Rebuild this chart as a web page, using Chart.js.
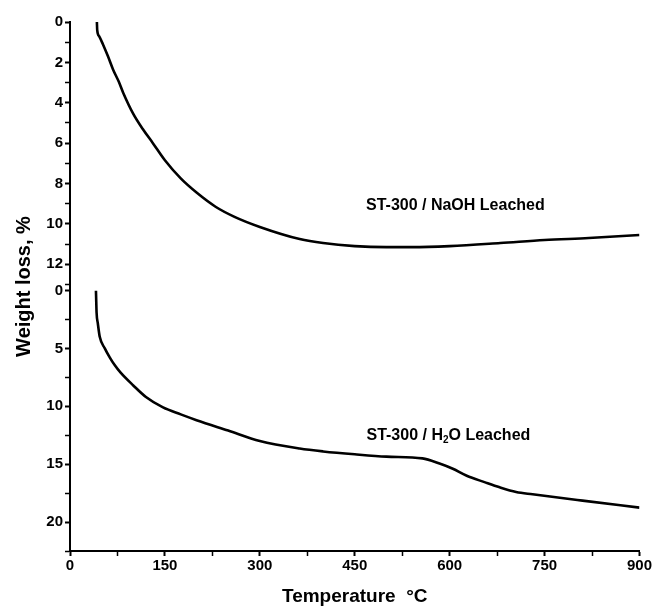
<!DOCTYPE html>
<html>
<head>
<meta charset="utf-8">
<script src="https://cdn.jsdelivr.net/npm/chart.js@4.4.1/dist/chart.umd.min.js"></script>
<style>
html, body { margin: 0; padding: 0; background: #fff; }
#wrap { width: 653px; height: 606px; }
</style>
</head>
<body>
<div id="wrap"><canvas id="tga"></canvas></div>
<script>
/***** data *****/
var tempTicks = [0, 150, 300, 450, 600, 750, 900];
var naohTicks = [0, 2, 4, 6, 8, 10, 12];
var waterTicks = [0, 5, 10, 15, 20];

// ST-300 / NaOH leached (top panel)
var naohTemp = [42.5, 43, 46, 52, 60, 68, 77, 84, 100, 115, 131, 150, 175, 200, 230, 260, 300, 363, 400, 450, 500, 540, 600, 680, 750, 820, 900];
var naohLoss = [0, 0.4, 0.7, 1.1, 1.7, 2.35, 2.95, 3.5, 4.55, 5.3, 6.0, 6.85, 7.75, 8.45, 9.15, 9.65, 10.15, 10.75, 10.95, 11.1, 11.15, 11.15, 11.1, 10.95, 10.8, 10.7, 10.55];

// ST-300 / H2O leached (bottom panel)
var waterTemp = [41, 41.5, 42, 44, 47, 55, 63, 70, 80, 100, 120, 147, 175, 200, 250, 300, 363, 400, 450, 500, 557, 584, 605, 627, 655, 679, 705, 731, 810, 900];
var waterLoss = [0, 1.0, 1.9, 2.85, 4.0, 5.0, 5.8, 6.4, 7.1, 8.2, 9.2, 10.1, 10.7, 11.2, 12.1, 13.0, 13.65, 13.9, 14.15, 14.35, 14.5, 14.95, 15.4, 16.0, 16.55, 17.0, 17.4, 17.6, 18.15, 18.75];
/***** !data *****/

function pairs(xs, ys) {
    var out = [];
    for (var i = 0; i < xs.length; i++) {
        out.push({x: xs[i], y: ys[i]});
    }
    return out;
}

// major ticks plus a minor one half way between them
function withMinor(major, max) {
    var step = major[1] - major[0];
    var vals = [];
    for (var i = 0; i < major.length; i++) {
        vals.push(major[i]);
        if (major[i] + step / 2 <= max) {
            vals.push(major[i] + step / 2);
        }
    }
    return vals;
}

var tickFont = {family: '"Liberation Sans", Arial, sans-serif', size: 15, weight: 'bold'};

function yAxis(major, max, weight) {
    return {
        type: 'linear',
        position: 'left',
        stack: 'tga',
        stackWeight: weight,
        reverse: true,
        min: 0,
        max: max,
        afterBuildTicks: function(scale) {
            scale.ticks = withMinor(major, max).map(function(v) { return {value: v}; });
        },
        afterFit: function(scale) { scale.width = 70; },
        ticks: {
            autoSkip: false,
            color: '#000',
            font: tickFont,
            padding: 2,
            callback: function(v) { return major.includes(v) ? String(v) : ''; }
        },
        grid: {
            drawOnChartArea: false,
            drawTicks: true,
            tickLength: 5,
            tickColor: '#000',
            tickWidth: function(c) { return c.tick && major.includes(c.tick.value) ? 2 : 1.5; }
        },
        border: {display: true, color: '#000', width: 2}
    };
}

var sideTitle = {
    id: 'sideTitle',
    afterDraw: function(chart) {
        var ctx = chart.ctx;
        var a = chart.chartArea;
        ctx.save();
        ctx.translate(24, (a.top + a.bottom) / 2);
        ctx.rotate(-Math.PI / 2);
        ctx.font = 'bold 20px "Liberation Sans", Arial, sans-serif';
        ctx.textAlign = 'center';
        ctx.textBaseline = 'middle';
        ctx.fillStyle = '#000';
        ctx.fillText('Weight loss, %', 0, 0);
        ctx.restore();
    }
};

// text parts: [text, isSubscript]
function drawParts(ctx, parts, cx, cy) {
    var big = 'bold 16px "Liberation Sans", Arial, sans-serif';
    var small = 'bold 10px "Liberation Sans", Arial, sans-serif';
    var total = 0;
    parts.forEach(function(p) {
        ctx.font = p[1] ? small : big;
        total += ctx.measureText(p[0]).width;
    });
    var x = cx - total / 2;
    parts.forEach(function(p) {
        ctx.font = p[1] ? small : big;
        ctx.fillText(p[0], x, p[1] ? cy + 5 : cy);
        x += ctx.measureText(p[0]).width;
    });
}

var curveLabels = {
    id: 'curveLabels',
    afterDatasetsDraw: function(chart) {
        var ctx = chart.ctx;
        var sx = chart.scales.x;
        ctx.save();
        ctx.fillStyle = '#000';
        ctx.textAlign = 'left';
        ctx.textBaseline = 'middle';
        drawParts(ctx, [['ST-300 / NaOH Leached', false]],
            sx.getPixelForValue(609), chart.scales.yTop.getPixelForValue(9.1));
        drawParts(ctx, [['ST-300 / H', false], ['2', true], ['O Leached', false]],
            sx.getPixelForValue(598), chart.scales.yBot.getPixelForValue(12.5));
        ctx.restore();
    }
};

var lineStyle = {
    borderColor: '#000',
    borderWidth: 2.6,
    pointRadius: 0,
    fill: false,
    cubicInterpolationMode: 'monotone'
};

new Chart(document.getElementById('tga'), {
    type: 'line',
    data: {
        datasets: [
            Object.assign({label: 'ST-300 / NaOH Leached', data: pairs(naohTemp, naohLoss), yAxisID: 'yTop'}, lineStyle),
            Object.assign({label: 'ST-300 / H2O Leached', data: pairs(waterTemp, waterLoss), yAxisID: 'yBot'}, lineStyle)
        ]
    },
    options: {
        responsive: true,
        maintainAspectRatio: false,
        animation: false,
        layout: {padding: {top: 22, right: 13, left: 0, bottom: 0}},
        plugins: {legend: {display: false}, tooltip: {enabled: false}},
        scales: {
            x: {
                type: 'linear',
                min: 0,
                max: 900,
                afterBuildTicks: function(scale) {
                    scale.ticks = withMinor(tempTicks, 900).map(function(v) { return {value: v}; });
                },
                afterFit: function(scale) { scale.height = 55; },
                ticks: {
                    autoSkip: false,
                    maxRotation: 0,
                    color: '#000',
                    font: tickFont,
                    padding: 1,
                    callback: function(v) { return tempTicks.includes(v) ? String(v) : ''; }
                },
                grid: {
                    drawOnChartArea: false,
                    drawTicks: true,
                    tickLength: 5,
                    tickColor: '#000',
                    tickWidth: function(c) { return c.tick && tempTicks.includes(c.tick.value) ? 2 : 1.5; }
                },
                border: {display: true, color: '#000', width: 2},
                title: {
                    display: true,
                    text: 'Temperature  \u00B0C',
                    color: '#000',
                    font: {family: '"Liberation Sans", Arial, sans-serif', size: 19, weight: 'bold'},
                    padding: {top: 0, bottom: -2}
                }
            },
            // later stacked axes on the left are placed higher up
            yBot: yAxis(waterTicks, 22.5, 260),
            yTop: yAxis(naohTicks, 13.3, 268)
        }
    },
    plugins: [sideTitle, curveLabels]
});
</script>
</body>
</html>
